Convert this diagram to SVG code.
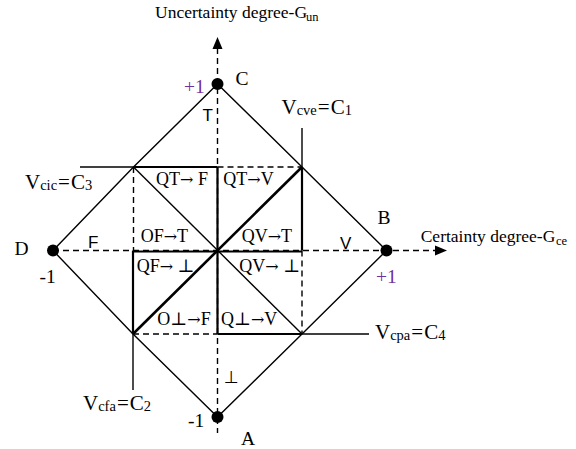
<svg xmlns="http://www.w3.org/2000/svg" width="576" height="449" viewBox="0 0 576 449">
<style>
.ln{stroke:#000;stroke-width:1.4;fill:none}
.thk{stroke:#000;stroke-width:2.2;fill:none}
.bold{stroke:#000;stroke-width:2.6;fill:none}
.dsh{stroke:#000;stroke-width:1.4;fill:none;stroke-dasharray:6,4}
.dot{fill:#000}
.s{font-family:"Liberation Serif","DejaVu Serif",serif;font-size:17.5px;fill:#000}
.r{font-size:18px}
.ar{font-family:"DejaVu Serif",serif;font-size:16px}
.v{font-size:19.5px}
.c{font-size:21px}
.sub{font-size:12.5px}
.csub{font-size:14.5px}
.sans{font-family:"Liberation Sans","DejaVu Sans",sans-serif;font-size:17px;fill:#000}
.bot{font-family:"DejaVu Sans",sans-serif;font-size:17px;fill:#000}
.pur{fill:#7030a0}
</style>
<rect width="576" height="449" fill="#fff"/>
<g id="connectors">
<path class="ln" d="M53,250.5 L133.5,167 L217.5,84 L302,167 L386.5,250.5 L302,334 L217.5,417 L133,334 Z"/>
<line class="dsh" x1="217.5" y1="48" x2="217.5" y2="433"/>
<polygon points="217.5,37 212.5,49 222.5,49" fill="#000"/>
<line class="dsh" x1="53" y1="250.5" x2="436" y2="250.5"/>
<polygon points="447,250.5 435,245.5 435,255.5" fill="#000"/>
<line class="ln" x1="80" y1="167" x2="133.5" y2="167"/>
<line class="thk" x1="133.5" y1="167" x2="217.5" y2="167"/>
<line class="dsh" x1="217.5" y1="167" x2="302" y2="167"/>
<line class="ln" x1="302" y1="128" x2="302" y2="167"/>
<line class="thk" x1="302" y1="167" x2="302" y2="250.5"/>
<line class="dsh" x1="302" y1="250.5" x2="302" y2="334"/>
<line class="thk" x1="217.5" y1="334" x2="302" y2="334"/>
<line class="ln" x1="302" y1="334" x2="369" y2="334"/>
<line class="dsh" x1="133" y1="334" x2="217.5" y2="334"/>
<line class="dsh" x1="133.5" y1="167" x2="133.5" y2="250.5"/>
<line class="thk" x1="133" y1="250.5" x2="133" y2="334"/>
<line class="ln" x1="133" y1="334" x2="133" y2="390"/>
<line class="thk" x1="133" y1="251.5" x2="302" y2="251.5"/>
<line class="thk" x1="217.5" y1="167" x2="217.5" y2="334"/>
<line class="ln" x1="133.5" y1="167" x2="302" y2="334"/>
<line class="bold" x1="302" y1="167" x2="133" y2="334"/>
</g>
<g id="axis-labels">
<text class="s" x="155" y="18">Uncertainty degree-G<tspan class="sub" x="306" dy="3">un</tspan></text>
<text class="s" x="420.7" y="241.7">Certainty degree-G<tspan class="sub" x="556" dy="3">ce</tspan></text>
</g>
<g id="node-C">
<circle class="dot" cx="217.5" cy="84" r="6"/>
<text class="s v" x="235.5" y="85">C</text>
<text class="s v pur" x="184" y="93">+1</text>
<text class="sans" x="202.5" y="120.5">T</text>
</g>
<g id="node-B">
<circle class="dot" cx="386.5" cy="250.5" r="6"/>
<text class="s v" x="377.5" y="224">B</text>
<text class="s v pur" x="376" y="283">+1</text>
<text class="sans" x="340" y="249.3">V</text>
</g>
<g id="node-D">
<circle class="dot" cx="53" cy="250.5" r="6"/>
<text class="s v" x="14.5" y="255">D</text>
<text class="s v" x="39.5" y="283">-1</text>
<text class="sans" x="88" y="248.3">F</text>
</g>
<g id="node-A">
<circle class="dot" cx="217.5" cy="417" r="6"/>
<text class="s v" x="241" y="445">A</text>
<text class="s v" x="188" y="427">-1</text>
<text class="bot" x="224" y="383.3">⊥</text>
</g>
<g id="control-labels">
<text class="s c" x="281.5" y="114">V<tspan class="csub" dy="1">cve</tspan><tspan dx="1" dy="-1">=</tspan><tspan dx="1">C</tspan><tspan class="csub" dy="1">1</tspan></text>
<text class="s c" x="25" y="188.5">V<tspan class="csub" dy="1">cic</tspan><tspan dx="1" dy="-1">=</tspan><tspan dx="1">C</tspan><tspan class="csub" dy="1">3</tspan></text>
<text class="s c" x="375" y="338.5">V<tspan class="csub" dy="1">cpa</tspan><tspan dx="1" dy="-1">=</tspan><tspan dx="1">C</tspan><tspan class="csub" dy="1">4</tspan></text>
<text class="s c" x="83" y="410">V<tspan class="csub" dy="1">cfa</tspan><tspan dx="1" dy="-1">=</tspan><tspan dx="1">C</tspan><tspan class="csub" dy="1">2</tspan></text>
</g>
<g id="regions">
<text class="s r" x="156" y="185">QT<tspan class="ar">→</tspan> F</text>
<text class="s r" x="223.3" y="185">QT<tspan class="ar">→</tspan>V</text>
<text class="s r" x="140.7" y="241.7">OF<tspan class="ar">→</tspan>T</text>
<text class="s r" x="241.7" y="241.7">QV<tspan class="ar">→</tspan>T</text>
<text class="s r" x="136.7" y="271.7">QF<tspan class="ar">→</tspan> ⊥</text>
<text class="s r" x="239.3" y="271.7">QV<tspan class="ar">→</tspan> ⊥</text>
<text class="s r" x="157.3" y="325">O⊥<tspan class="ar">→</tspan>F</text>
<text class="s r" x="221" y="325">Q⊥<tspan class="ar">→</tspan>V</text>
</g>
</svg>
